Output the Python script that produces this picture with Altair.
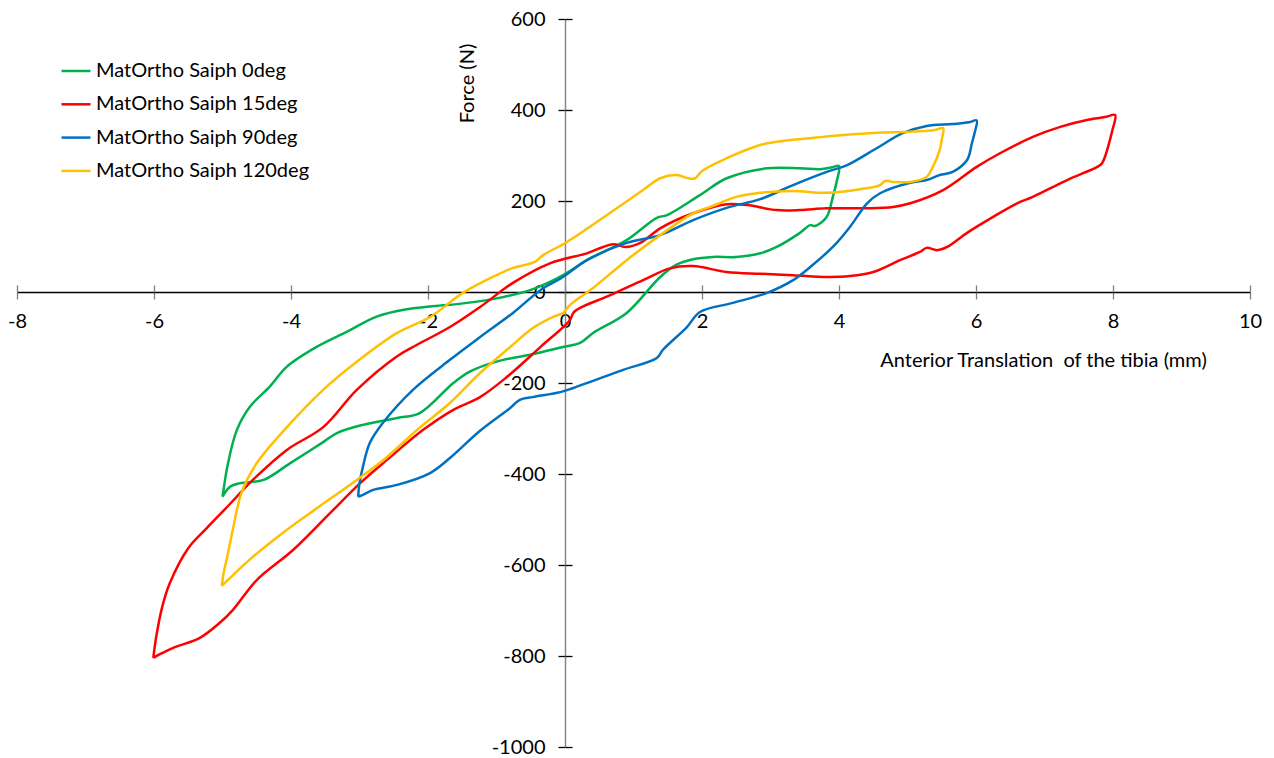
import altair as alt
import pandas as pd

# Hysteresis loops: force vs anterior tibial translation, one closed loop per flexion angle.
SERIES = ["MatOrtho Saiph 0deg", "MatOrtho Saiph 15deg", "MatOrtho Saiph 90deg", "MatOrtho Saiph 120deg"]
COLORS = ["#00B050", "#FF0000", "#0070C0", "#FFC000"]

x_0deg = [-5.0, -4.97, -4.93, -4.79, -4.6, -4.31, -4.06, -3.62, -3.18, -2.75, -2.31, -1.97, -1.49, -1.0, -0.51,
          -0.22, 0.03, 0.32, 0.9, 1.34, 1.49, 1.97, 2.36, 2.95, 3.43, 3.72, 3.9, 4.0,
          3.97, 3.91, 3.82, 3.65, 3.58, 3.43, 3.09, 2.85, 2.5, 2.16, 1.87, 1.63, 1.39, 0.9, 0.41, 0.22, -0.03,
          -0.51, -1.0, -1.39, -1.63, -2.12, -2.45, -2.95, -3.33, -3.53, -4.01, -4.4, -4.74, -4.89, -5.0]
y_0deg = [-450, -420, -384, -303, -252, -208, -164, -120, -87, -54, -38, -32, -25, -14, 4,
          22, 42, 70, 114, 163, 169, 213, 250, 272, 272, 270, 274, 277,
          245, 209, 165, 145, 147, 130, 99, 85, 77, 77, 72, 60, 33, -46, -90, -112, -121,
          -138, -153, -175, -200, -266, -277, -292, -310, -330, -376, -413, -420, -428, -450]

x_15deg = [-6.01, -5.97, -5.88, -5.77, -5.5, -5.23, -4.93, -4.55, -4.06, -3.53, -3.04, -2.45, -2.16, -1.68, -1.24,
           -0.76, -0.22, 0.22, 0.32, 0.7, 0.88, 1.1, 1.39, 1.87, 2.36, 2.66, 3.09, 3.43, 3.82, 4.41, 4.79,
           5.04, 5.52, 6.01, 6.35, 6.83, 7.23, 7.62, 7.9, 8.03,
           7.99, 7.84, 7.77, 7.33, 6.83, 6.6, 6.25, 5.87, 5.58, 5.43, 5.28, 5.18, 4.89, 4.5, 4.16, 3.82, 3.33,
           2.85, 2.36, 1.87, 1.53, 1.14, 0.66, 0.22, 0.12, 0.07, -0.36, -0.85, -1.24, -1.63, -2.07, -2.6,
           -2.99, -3.43, -3.97, -4.5, -4.85, -5.04, -5.33, -5.72, -5.9, -6.01]
y_15deg = [-804, -760, -692, -640, -563, -519, -472, -412, -347, -297, -215, -141, -116, -77, -33,
           20, 63, 81, 85, 105, 99, 108, 140, 173, 193, 191, 180, 180, 184, 184, 187,
           195, 224, 275, 305, 341, 363, 378, 385, 389,
           355, 283, 275, 246, 209, 195, 165, 130, 99, 92, 97, 88, 70, 44, 35, 33, 37,
           40, 44, 57, 52, 26, -7, -35, -46, -62, -121, -187, -231, -259, -303, -369,
           -420, -486, -567, -633, -699, -727, -760, -782, -795, -804]

x_90deg = [-3.02, -3.0, -2.95, -2.85, -2.66, -2.22, -1.68, -1.24, -0.76, -0.36, -0.03, 0.32, 0.9, 1.39, 1.87,
           2.36, 2.85, 3.33, 3.82, 4.12, 4.55, 4.93, 5.28, 5.66, 5.9, 6.01,
           5.98, 5.94, 5.87, 5.66, 5.47, 5.28, 5.04, 4.6, 4.41, 4.16, 3.91, 3.58, 3.33, 2.95, 2.45, 1.97, 1.78,
           1.43, 1.34, 0.85, 0.12, -0.07, -0.47, -0.66, -0.8, -1.24, -1.68, -1.97, -2.45, -2.8, -2.95, -3.02]
y_90deg = [-450, -420, -384, -332, -288, -215, -149, -99, -46, 4, 33, 70, 108, 125, 158,
           185, 204, 235, 264, 279, 316, 349, 365, 369, 373, 377,
           350, 327, 290, 264, 257, 246, 240, 217, 195, 143, 99, 55, 26, -2, -24, -44, -77,
           -127, -145, -171, -211, -220, -231, -237, -255, -305, -365, -398, -424, -435, -446, -450]

x_120deg = [-5.01, -4.98, -4.93, -4.85, -4.72, -4.5, -4.06, -3.53, -2.95, -2.45, -1.97, -1.49, -1.0, -0.76, -0.44,
            -0.32, 0.03, 0.66, 1.14, 1.39, 1.63, 1.8, 1.9, 2.0, 2.36, 2.85, 3.09, 3.58, 4.06, 4.55, 5.04,
            5.4, 5.52,
            5.5, 5.47, 5.37, 5.28, 5.04, 4.79, 4.67, 4.6, 4.31, 3.82, 3.33, 2.85, 2.5, 2.12, 1.87, 1.39, 0.9, 0.41,
            0.07, -0.03, -0.18, -0.47, -0.8, -1.24, -1.68, -2.16, -2.6, -3.04, -3.62, -4.16, -4.64, -4.9, -5.01]
y_120deg = [-646, -615, -582, -523, -440, -376, -297, -215, -143, -90, -55, -2, 37, 53, 66,
            81, 110, 174, 224, 250, 257, 250, 250, 266, 294, 323, 330, 338, 345, 350, 352,
            356, 360,
            335, 312, 275, 253, 242, 242, 244, 235, 226, 218, 222, 218, 209, 187, 173, 125, 70, 9,
            -29, -46, -55, -79, -121, -178, -244, -303, -363, -413, -475, -534, -593, -630, -646]

X_TICKS = list(range(-8, 11, 2))
Y_TICKS = list(range(-1000, 601, 200))

frames = []
for name, xs, ys in zip(SERIES, [x_0deg, x_15deg, x_90deg, x_120deg], [y_0deg, y_15deg, y_90deg, y_120deg]):
    frames.append(pd.DataFrame({"series": name, "x": xs, "y": ys, "step": range(len(xs))}))
df = pd.concat(frames, ignore_index=True)

FONT = "Lato"
FS = 20
W, H = 1233, 728
X0_PX = 548   # horizontal pixel of x = 0 inside the plot area
Y0_PX = 273   # vertical pixel of y = 0 inside the plot area

x_scale = alt.Scale(domain=[-8, 10], nice=False, zero=False)
y_scale = alt.Scale(domain=[-1000, 600], nice=False, zero=False)

color = alt.Color(
    "series:N",
    scale=alt.Scale(domain=SERIES, range=COLORS),
    sort=SERIES,
    legend=alt.Legend(
        title=None, orient="none", legendX=43, legendY=36, direction="vertical",
        symbolType="stroke", symbolSize=841, symbolStrokeWidth=2.5, rowPadding=7.3,
        labelFont=FONT, labelFontSize=FS, labelColor="#000000", labelOffset=4, labelLimit=0,
        padding=0,
    ),
)

lines = alt.Chart(df).mark_line(strokeWidth=2.5, interpolate="catmull-rom").encode(
    x=alt.X("x:Q", scale=x_scale, axis=alt.Axis(
        orient="bottom", offset=-(H - Y0_PX), values=X_TICKS, grid=False,
        domainColor="#000000", domainWidth=1.3, tickColor="#808080", tickWidth=1.3, tickSize=7,
        labelFont=FONT, labelFontSize=FS, labelColor="#000000", labelPadding=22, labelBaseline="middle",
        labelFlush=False, labelOverlap=False, labelExpr="datum.value",
        title="Anterior Translation\u00a0 of the tibia (mm)", titleFont=FONT, titleFontSize=FS,
        titleFontWeight="normal", titleColor="#000000", titleX=1026, titleY=68,
        titleAlign="center", titleBaseline="middle",
    )),
    y=alt.Y("y:Q", scale=y_scale, axis=alt.Axis(
        orient="left", offset=-X0_PX, values=Y_TICKS, grid=False,
        domainColor="#868686", domainWidth=1.5, tickColor="#000000", tickWidth=1.3, tickSize=7,
        labelFont=FONT, labelFontSize=FS, labelColor="#000000", labelPadding=13,
        labelFlush=False, labelOverlap=False, labelExpr="datum.value",
        title="Force (N)", titleFont=FONT, titleFontSize=FS, titleFontWeight="normal",
        titleColor="#000000", titleX=-98, titleY=64, titleAlign="center", titleBaseline="middle",
        titleAngle=270,
    )),
    color=color,
    order="step:Q",
)

# Second set of tick marks on the opposite side, so ticks cross the axis lines.
cross_ticks = alt.Chart(df).mark_point(opacity=0).encode(
    x=alt.X("x:Q", scale=x_scale, axis=alt.Axis(
        orient="top", offset=-Y0_PX, values=X_TICKS, grid=False, domain=False, labels=False,
        tickColor="#808080", tickWidth=1.3, tickSize=7, title=None,
    )),
    y=alt.Y("y:Q", scale=y_scale, axis=alt.Axis(
        orient="right", offset=-(W - X0_PX), values=Y_TICKS, grid=False, domain=False, labels=False,
        tickColor="#000000", tickWidth=1.3, tickSize=7, title=None,
    )),
)

chart = alt.layer(lines, cross_ticks).resolve_axis(x="independent", y="independent").properties(
    width=W, height=H,
    background="#ffffff",
    autosize=alt.AutoSizeParams(type="none"),
    padding={"left": 17, "top": 19, "right": 24, "bottom": 11},
).configure_view(strokeWidth=0, stroke="transparent")

chart.save("out.html", embed_options={"renderer": "svg", "actions": False})
